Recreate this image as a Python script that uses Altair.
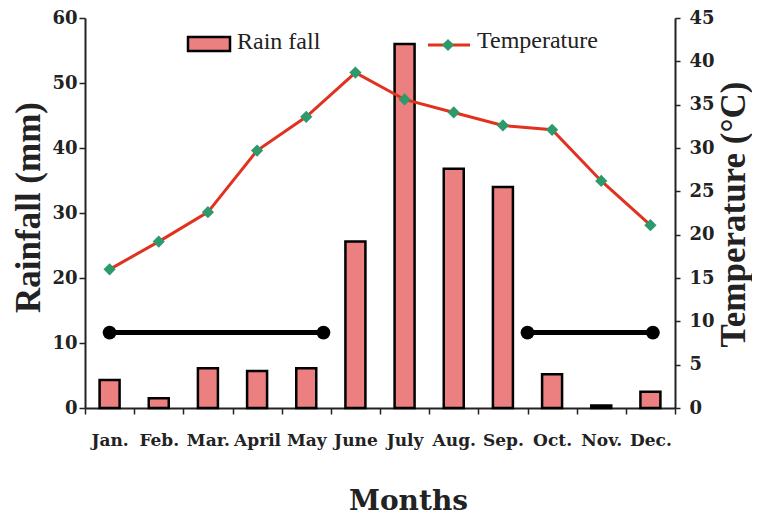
import altair as alt
import pandas as pd

# ---- data ----
months = ["Jan.", "Feb.", "Mar.", "April", "May", "June",
          "July", "Aug.", "Sep.", "Oct.", "Nov.", "Dec."]
rainfall_mm = [4.3, 1.5, 6.1, 5.7, 6.1, 25.6, 56.0, 36.8, 34.0, 5.2, 0.4, 2.5]
temperature_c = [16.0, 19.2, 22.6, 29.7, 33.6, 38.7, 35.6, 34.1, 32.6, 32.1, 26.2, 21.1]

# dry-period bars (in month-position units, rainfall scale level)
dry_id = ["a", "a", "b", "b"]
dry_pos = [0.5, 4.85, 9.0, 11.55]
dry_level = [11.6, 11.6, 11.6, 11.6]

legend_labels = ["Rain fall", "Temperature"]

BAR_FILL = "#ec7f7f"
LINE_RED = "#e0321f"
DOT_GREEN = "#2e9a6c"
INK = "#222222"

df = pd.DataFrame({"month": months, "rain": rainfall_mm, "temp": temperature_c})
seg_df = pd.DataFrame({"seg": dry_id, "pos": dry_pos, "level": dry_level})
one = pd.DataFrame({"k": [0]})

x_axis = alt.Axis(
    title="Months", titleFont="DejaVu Serif", titleFontSize=28, titleFontWeight="bold",
    titleColor=INK, titleX=323, titleY=101, titleAlign="center", titleBaseline="alphabetic",
    labelFont="DejaVu Serif", labelFontSize=17, labelFontWeight="bold", labelColor=INK,
    labelAngle=0, labelPadding=18, tickBand="extent", tickSize=6, tickWidth=1.5,
    tickColor=INK, domainColor=INK, domainWidth=2, grid=False,
)

x_enc = alt.X("month:N", sort=months,
              scale=alt.Scale(paddingInner=0, paddingOuter=0), axis=x_axis)

rain_scale = alt.Scale(domain=[0, 60], nice=False)
temp_scale = alt.Scale(domain=[0, 45], nice=False)

bars = alt.Chart(df).mark_bar(size=20, fill=BAR_FILL, stroke="black", strokeWidth=2.5).encode(
    x=x_enc,
    y=alt.Y("rain:Q", scale=rain_scale, axis=alt.Axis(
        orient="left", values=list(range(0, 61, 10)), title="Rainfall (mm)",
        titleFont="Liberation Serif", titleFontSize=35, titleFontWeight="bold", titleColor=INK,
        titleAngle=270, titleAlign="center", titleBaseline="middle", titleX=-57, titleY=189,
        labelFont="DejaVu Serif", labelFontSize=18, labelFontWeight="bold", labelColor=INK,
        labelPadding=2, tickSize=6, tickWidth=1.5, tickColor=INK,
        domainColor=INK, domainWidth=2, grid=False)),
)

line = alt.Chart(df).mark_line(color=LINE_RED, strokeWidth=3).encode(
    x=alt.X("month:N", sort=months),
    y=alt.Y("temp:Q", scale=temp_scale, axis=alt.Axis(
        orient="right", values=list(range(0, 46, 5)), title="Temperature (°C)",
        titleFont="Liberation Serif", titleFontSize=35, titleFontWeight="bold", titleColor=INK,
        titleAngle=270, titleAlign="center", titleBaseline="middle", titleX=58, titleY=196,
        labelFont="DejaVu Serif", labelFontSize=18, labelFontWeight="bold", labelColor=INK,
        labelPadding=9, tickSize=5, tickWidth=1.5, tickColor=INK,
        domainColor=INK, domainWidth=2, grid=False)),
)

points = alt.Chart(df).mark_point(shape="diamond", filled=True, color=DOT_GREEN,
                                  size=150, opacity=1).encode(
    x=alt.X("month:N", sort=months),
    y=alt.Y("temp:Q", scale=temp_scale, axis=None),
)

inner = alt.layer(bars, line, points).resolve_scale(y="independent")

seg_x = alt.X("pos:Q", scale=alt.Scale(domain=[0, 12], nice=False, zero=False), axis=None)
seg_y = alt.Y("level:Q", scale=alt.Scale(domain=[0, 60], nice=False), axis=None)
seg_line = alt.Chart(seg_df).mark_line(color="black", strokeWidth=5).encode(
    x=seg_x, y=seg_y, detail="seg:N")
seg_dots = alt.Chart(seg_df).mark_circle(color="black", size=190, opacity=1).encode(
    x=seg_x, y=seg_y)
segs = alt.layer(seg_line, seg_dots)

# legend drawn by hand
leg_rect = alt.Chart(one).mark_rect(fill=BAR_FILL, stroke="black", strokeWidth=2.5).encode(
    x=alt.value(103), x2=alt.value(145), y=alt.value(19), y2=alt.value(33))
leg_text1 = alt.Chart(one).mark_text(text=legend_labels[0], align="left", baseline="alphabetic",
                                     font="Liberation Serif", fontSize=24, color=INK).encode(
    x=alt.value(152), y=alt.value(31))
leg_rule = alt.Chart(one).mark_rule(color=LINE_RED, strokeWidth=3).encode(
    x=alt.value(343), x2=alt.value(385), y=alt.value(27))
leg_dia = alt.Chart(one).mark_point(shape="diamond", filled=True, color=DOT_GREEN,
                                    size=150, opacity=1).encode(
    x=alt.value(363), y=alt.value(27))
leg_text2 = alt.Chart(one).mark_text(text=legend_labels[1], align="left", baseline="alphabetic",
                                     font="Liberation Serif", fontSize=24, color=INK).encode(
    x=alt.value(392), y=alt.value(30))

chart = alt.layer(inner, segs, leg_rect, leg_text1, leg_rule, leg_dia, leg_text2).resolve_scale(
    x="independent", y="independent"
).properties(
    width=590, height=390,
    padding={"left": 77, "top": 10, "right": 77, "bottom": 109},
    autosize=alt.AutoSizeParams(type="none"),
).configure_view(stroke=None)

chart.save("out.html", embed_options={"renderer": "svg", "actions": False})
